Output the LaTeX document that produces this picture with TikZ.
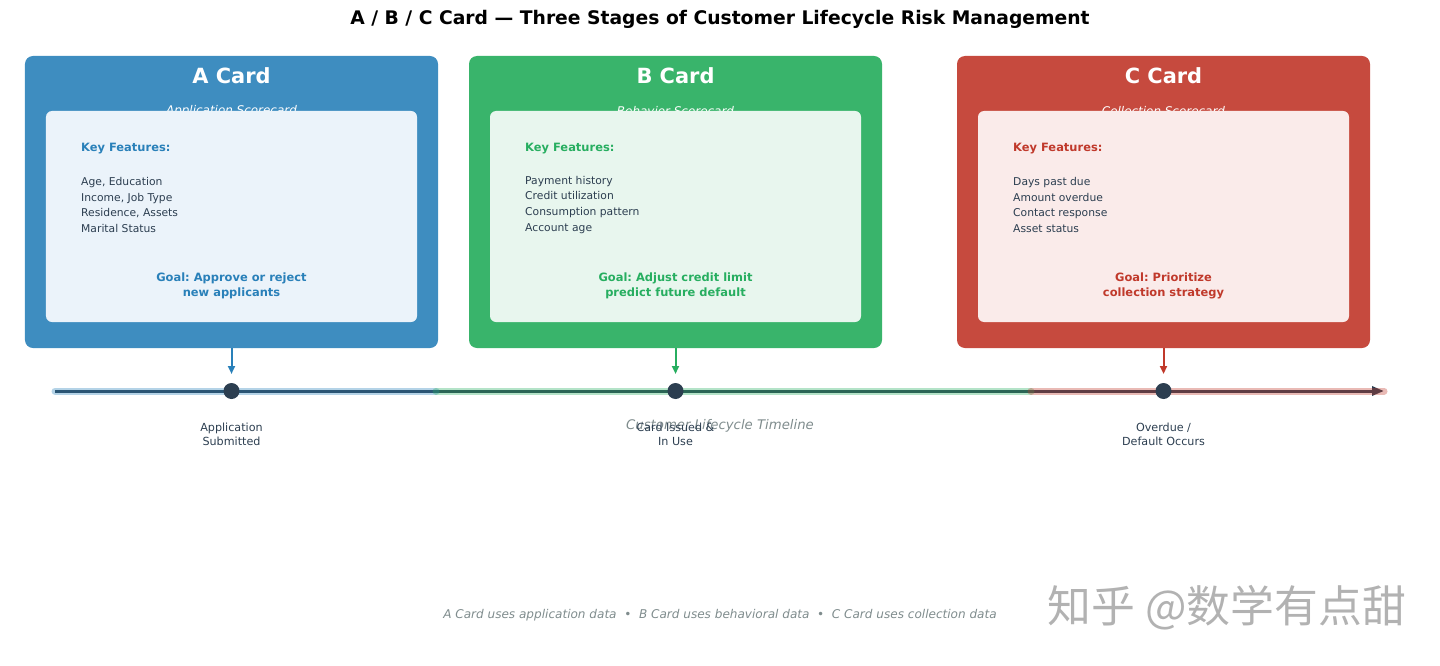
\documentclass[tikz,border=0pt]{standalone}
\usepackage{fontspec}
\setmainfont{DejaVu Sans}
\newfontfamily\cjk{Noto Sans CJK SC}
\usetikzlibrary{positioning,arrows.meta}
\frenchspacing

\definecolor{Ablue}{HTML}{2980B9}
\definecolor{Bgreen}{HTML}{27AE60}
\definecolor{Cred}{HTML}{C0392B}
\definecolor{Afill}{RGB}{62,141,192}
\definecolor{Bfill}{RGB}{57,180,107}
\definecolor{Cfill}{RGB}{198,74,62}
\definecolor{Apanel}{HTML}{EBF3FA}
\definecolor{Bpanel}{HTML}{E8F6EE}
\definecolor{Cpanel}{HTML}{FAEBEA}
\definecolor{darkblue}{HTML}{2C3E50}
\definecolor{greytext}{HTML}{7F8C8D}

\begin{document}
\begin{tikzpicture}[x=1bp, y=-1bp,
  card/.style={rounded corners=8bp, minimum width=413bp, minimum height=292bp, inner sep=0pt},
  panel/.style={rounded corners=6bp, minimum width=371bp, minimum height=211bp, inner sep=0pt},
  cardtitle/.style={text=white, font=\fontsize{21}{25}\selectfont\bfseries},
  cardsub/.style={text=white, font=\fontsize{12}{14}\selectfont\itshape},
  keyfeat/.style={anchor=west, inner sep=0pt, font=\fontsize{11.5}{14}\selectfont\bfseries},
  featlist/.style={anchor=west, inner sep=0pt, align=left, text=darkblue, font=\fontsize{10.8}{16}\selectfont},
  goal/.style={inner sep=0pt, align=center, font=\fontsize{11.5}{15}\selectfont\bfseries},
  down/.style={line width=2bp, -{Triangle[length=8bp,width=7bp]}},
  band/.style={line width=7bp, line cap=round, opacity=0.35},
  dot/.style={circle, fill=darkblue, minimum size=16bp, inner sep=0pt},
  event/.style={inner sep=0pt, align=center, text=darkblue, font=\fontsize{11.2}{14}\selectfont}]

\useasboundingbox (0,0) rectangle (1440,666);

\node (title) at (720,19.5) {\fontsize{18.8}{22}\selectfont\bfseries A / B / C Card --- Three Stages of Customer Lifecycle Risk Management};

% Card A
\node[card, fill=Afill] (cardA) at (231.5,202) {};
\node[cardtitle] (titleA) at (231.5,76) {A Card};
\node[cardsub] (subA) at (231.5,111) {Application Scorecard};
\node[panel, fill=Apanel] (panelA) at (231.5,216.5) {};
\node[keyfeat, text=Ablue] (keyA) at (81,148.5) {Key Features:};
\node[featlist] (featA) at (81,205) {Age, Education\\Income, Job Type\\Residence, Assets\\Marital Status};
\node[goal, text=Ablue] (goalA) at (231.5,285.5) {Goal: Approve or reject\\new applicants};

% Card B
\node[card, fill=Bfill] (cardB) at (675.5,202) {};
\node[cardtitle] (titleB) at (675.5,76) {B Card};
\node[cardsub] (subB) at (675.5,111) {Behavior Scorecard};
\node[panel, fill=Bpanel] (panelB) at (675.5,216.5) {};
\node[keyfeat, text=Bgreen] (keyB) at (525,148.5) {Key Features:};
\node[featlist] (featB) at (525,205) {Payment history\\Credit utilization\\Consumption pattern\\Account age};
\node[goal, text=Bgreen] (goalB) at (675.5,285.5) {Goal: Adjust credit limit\\predict future default};

% Card C
\node[card, fill=Cfill] (cardC) at (1163.5,202) {};
\node[cardtitle] (titleC) at (1163.5,76) {C Card};
\node[cardsub] (subC) at (1163.5,111) {Collection Scorecard};
\node[panel, fill=Cpanel] (panelC) at (1163.5,216.5) {};
\node[keyfeat, text=Cred] (keyC) at (1013,148.5) {Key Features:};
\node[featlist] (featC) at (1013,205) {Days past due\\Amount overdue\\Contact response\\Asset status};
\node[goal, text=Cred] (goalC) at (1163.5,285.5) {Goal: Prioritize\\collection strategy};

% Timeline
\coordinate (tStart) at (55,391);
\coordinate (tAB) at (436,391);
\coordinate (tBC) at (1031,391);
\coordinate (tEnd) at (1384,391);
\draw[line width=3bp, darkblue, -{Triangle[length=12bp,width=9bp]}] (tStart) -- (tEnd);
\draw[band, Ablue] (tStart) -- (tAB);
\draw[band, Bgreen] (tAB) -- (tBC);
\draw[band, Cred] (tBC) -- (tEnd);

\node[dot] (eA) at (231.5,391) {};
\node[dot] (eB) at (675.5,391) {};
\node[dot] (eC) at (1163.5,391) {};

\coordinate (aA) at (231.5,374);
\coordinate (aB) at (675.5,374);
\coordinate (aC) at (1163.5,374);
\draw[down, Ablue] (cardA.south) -- (aA);
\draw[down, Bgreen] (cardB.south) -- (aB);
\draw[down, Cred] (cardC.south) -- (aC);

\node[text=greytext, font=\fontsize{13.3}{16}\selectfont\itshape] (tlabel) at (720,426) {Customer Lifecycle Timeline};

\node[event] (labA) at (231.5,434.5) {Application\\Submitted};
\node[event] (labB) at (675.5,434.5) {Card Issued \&\\In Use};
\node[event] (labC) at (1163.5,434.5) {Overdue /\\Default Occurs};

% Footer
\node[text=greytext, font=\fontsize{12.1}{14}\selectfont\itshape] (note) at (720,615.5) {A Card uses application data~~\textbullet~~B Card uses behavioral data~~\textbullet~~C Card uses collection data};
\node[text=black!30, font=\fontsize{44}{48}\selectfont\cjk] (mark) at (1227,608) {知乎 @数学有点甜};

\end{tikzpicture}
\end{document}
